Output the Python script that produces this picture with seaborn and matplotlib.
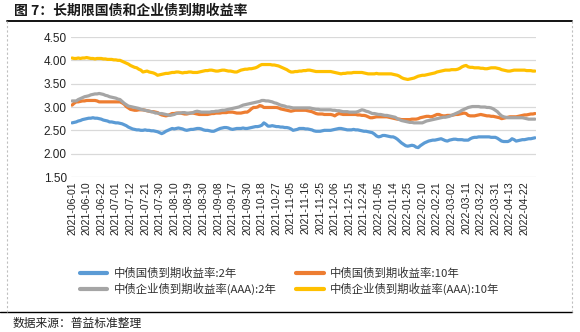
import numpy as np
import pandas as pd
import matplotlib
matplotlib.use("Agg")
import matplotlib.pyplot as plt
from matplotlib.lines import Line2D
import seaborn as sns

# ---------------- data ----------------
holidays = ["2021-06-14", "2021-09-20", "2021-09-21", "2021-10-01", "2021-10-04",
            "2021-10-05", "2021-10-06", "2021-10-07", "2022-01-03", "2022-01-31",
            "2022-02-01", "2022-02-02", "2022-02-03", "2022-02-04", "2022-04-04",
            "2022-04-05"]
dates = [d.strftime("%Y-%m-%d") for d in pd.bdate_range("2021-06-01", "2022-04-29")
         if d.strftime("%Y-%m-%d") not in holidays]

series_names = ["中债国债到期收益率:2年", "中债国债到期收益率:10年",
                "中债企业债到期收益率(AAA):2年", "中债企业债到期收益率(AAA):10年"]

gov_2y = [
    2.66, 2.67, 2.68, 2.70, 2.71, 2.73, 2.74, 2.75, 2.76, 2.76,
    2.77, 2.76, 2.76, 2.75, 2.74, 2.72, 2.71, 2.70, 2.68, 2.68,
    2.67, 2.66, 2.66, 2.65, 2.64, 2.62, 2.60, 2.57, 2.55, 2.53,
    2.52, 2.51, 2.51, 2.50, 2.50, 2.51, 2.50, 2.50, 2.49, 2.49,
    2.48, 2.47, 2.45, 2.43, 2.45, 2.48, 2.50, 2.52, 2.54, 2.53,
    2.54, 2.55, 2.54, 2.53, 2.51, 2.50, 2.51, 2.52, 2.52, 2.53,
    2.54, 2.54, 2.53, 2.51, 2.50, 2.50, 2.49, 2.48, 2.48, 2.50,
    2.52, 2.54, 2.55, 2.56, 2.56, 2.55, 2.53, 2.52, 2.53, 2.54,
    2.54, 2.54, 2.55, 2.54, 2.54, 2.55, 2.56, 2.57, 2.58, 2.58,
    2.59, 2.61, 2.66, 2.63, 2.59, 2.59, 2.60, 2.59, 2.58, 2.58,
    2.57, 2.57, 2.56, 2.56, 2.55, 2.53, 2.50, 2.51, 2.52, 2.54,
    2.54, 2.54, 2.53, 2.53, 2.52, 2.51, 2.49, 2.48, 2.48, 2.48,
    2.49, 2.50, 2.50, 2.50, 2.50, 2.51, 2.52, 2.53, 2.54, 2.54,
    2.53, 2.52, 2.51, 2.51, 2.51, 2.52, 2.51, 2.51, 2.50, 2.49,
    2.48, 2.48, 2.47, 2.46, 2.45, 2.42, 2.38, 2.36, 2.37, 2.39,
    2.39, 2.38, 2.37, 2.36, 2.36, 2.34, 2.31, 2.27, 2.23, 2.20,
    2.17, 2.16, 2.17, 2.18, 2.17, 2.14, 2.13, 2.17, 2.20, 2.23,
    2.25, 2.27, 2.28, 2.29, 2.29, 2.30, 2.31, 2.32, 2.30, 2.28,
    2.27, 2.29, 2.30, 2.31, 2.31, 2.30, 2.30, 2.30, 2.29, 2.29,
    2.29, 2.32, 2.34, 2.35, 2.35, 2.36, 2.36, 2.36, 2.36, 2.36,
    2.36, 2.35, 2.35, 2.35, 2.33, 2.30, 2.27, 2.26, 2.26, 2.26,
    2.28, 2.32, 2.30, 2.27, 2.28, 2.29, 2.30, 2.30, 2.31, 2.32,
    2.32, 2.33, 2.34]

gov_10y = [
    3.04, 3.08, 3.11, 3.11, 3.12, 3.13, 3.13, 3.14, 3.14, 3.14,
    3.14, 3.14, 3.13, 3.11, 3.11, 3.11, 3.11, 3.11, 3.11, 3.11,
    3.11, 3.11, 3.11, 3.11, 3.09, 3.06, 3.01, 2.98, 2.95, 2.94,
    2.93, 2.93, 2.94, 2.94, 2.94, 2.93, 2.92, 2.91, 2.90, 2.90,
    2.89, 2.88, 2.85, 2.83, 2.82, 2.81, 2.82, 2.84, 2.86, 2.86,
    2.87, 2.87, 2.87, 2.86, 2.85, 2.85, 2.86, 2.87, 2.87, 2.86,
    2.85, 2.84, 2.84, 2.84, 2.84, 2.84, 2.85, 2.86, 2.86, 2.87,
    2.87, 2.87, 2.88, 2.88, 2.88, 2.89, 2.89, 2.89, 2.88, 2.87,
    2.87, 2.87, 2.88, 2.89, 2.89, 2.92, 2.96, 2.99, 2.99, 3.00,
    3.03, 3.02, 2.99, 2.99, 2.99, 2.99, 2.99, 2.99, 2.99, 2.98,
    2.96, 2.95, 2.94, 2.93, 2.92, 2.91, 2.92, 2.93, 2.93, 2.93,
    2.93, 2.93, 2.93, 2.92, 2.91, 2.90, 2.88, 2.86, 2.85, 2.85,
    2.85, 2.84, 2.84, 2.84, 2.84, 2.83, 2.81, 2.84, 2.86, 2.85,
    2.84, 2.84, 2.84, 2.84, 2.84, 2.84, 2.84, 2.83, 2.83, 2.82,
    2.82, 2.81, 2.79, 2.77, 2.77, 2.78, 2.79, 2.79, 2.79, 2.79,
    2.79, 2.79, 2.78, 2.77, 2.76, 2.75, 2.74, 2.74, 2.73, 2.73,
    2.73, 2.73, 2.73, 2.74, 2.74, 2.74, 2.75, 2.77, 2.78, 2.79,
    2.80, 2.80, 2.79, 2.80, 2.82, 2.84, 2.84, 2.82, 2.81, 2.81,
    2.82, 2.82, 2.82, 2.83, 2.84, 2.84, 2.85, 2.86, 2.87, 2.86,
    2.82, 2.81, 2.81, 2.81, 2.82, 2.83, 2.84, 2.83, 2.82, 2.81,
    2.81, 2.80, 2.80, 2.79, 2.78, 2.77, 2.75, 2.76, 2.77, 2.78,
    2.79, 2.79, 2.79, 2.79, 2.80, 2.81, 2.82, 2.83, 2.83, 2.84,
    2.85, 2.85, 2.86]

corp_2y = [
    3.13, 3.13, 3.13, 3.16, 3.18, 3.20, 3.22, 3.23, 3.24, 3.26,
    3.27, 3.28, 3.28, 3.29, 3.28, 3.27, 3.25, 3.24, 3.22, 3.21,
    3.20, 3.19, 3.17, 3.16, 3.12, 3.08, 3.05, 3.02, 3.01, 3.00,
    2.99, 2.98, 2.97, 2.95, 2.94, 2.93, 2.92, 2.91, 2.90, 2.89,
    2.87, 2.87, 2.86, 2.86, 2.85, 2.84, 2.83, 2.82, 2.83, 2.84,
    2.86, 2.87, 2.87, 2.88, 2.88, 2.87, 2.87, 2.87, 2.88, 2.90,
    2.91, 2.90, 2.89, 2.89, 2.89, 2.89, 2.89, 2.90, 2.90, 2.91,
    2.91, 2.92, 2.93, 2.93, 2.94, 2.95, 2.96, 2.97, 2.98, 2.99,
    3.00, 3.02, 3.04, 3.05, 3.06, 3.07, 3.08, 3.09, 3.10, 3.11,
    3.12, 3.14, 3.14, 3.13, 3.13, 3.12, 3.11, 3.09, 3.08, 3.06,
    3.04, 3.03, 3.02, 3.00, 3.00, 2.99, 2.98, 2.98, 2.98, 2.98,
    2.98, 2.98, 2.98, 2.98, 2.98, 2.97, 2.96, 2.95, 2.95, 2.94,
    2.94, 2.94, 2.94, 2.94, 2.94, 2.93, 2.93, 2.92, 2.92, 2.91,
    2.90, 2.90, 2.90, 2.89, 2.89, 2.89, 2.89, 2.90, 2.92, 2.94,
    2.93, 2.91, 2.90, 2.88, 2.86, 2.86, 2.85, 2.84, 2.84, 2.83,
    2.82, 2.82, 2.81, 2.80, 2.79, 2.78, 2.75, 2.73, 2.71, 2.70,
    2.69, 2.68, 2.67, 2.67, 2.66, 2.66, 2.66, 2.66, 2.66, 2.68,
    2.70, 2.71, 2.72, 2.73, 2.74, 2.75, 2.76, 2.77, 2.78, 2.78,
    2.79, 2.80, 2.82, 2.84, 2.86, 2.88, 2.90, 2.93, 2.95, 2.97,
    2.99, 3.00, 3.01, 3.01, 3.01, 3.01, 3.00, 3.00, 3.00, 2.99,
    2.99, 2.98, 2.96, 2.93, 2.90, 2.85, 2.81, 2.79, 2.78, 2.77,
    2.77, 2.77, 2.77, 2.77, 2.77, 2.77, 2.77, 2.76, 2.75, 2.74,
    2.74, 2.74, 2.74]

corp_10y = [
    4.05, 4.04, 4.04, 4.05, 4.04, 4.05, 4.05, 4.06, 4.05, 4.04,
    4.04, 4.03, 4.04, 4.04, 4.04, 4.03, 4.03, 4.02, 4.02, 4.02,
    4.01, 4.01, 4.00, 4.00, 3.98, 3.96, 3.94, 3.92, 3.89, 3.87,
    3.85, 3.84, 3.81, 3.79, 3.75, 3.76, 3.77, 3.75, 3.74, 3.73,
    3.71, 3.68, 3.69, 3.70, 3.71, 3.72, 3.72, 3.73, 3.74, 3.74,
    3.75, 3.75, 3.74, 3.73, 3.74, 3.74, 3.75, 3.75, 3.74, 3.74,
    3.74, 3.75, 3.76, 3.77, 3.78, 3.78, 3.79, 3.79, 3.78, 3.77,
    3.77, 3.78, 3.79, 3.79, 3.78, 3.77, 3.77, 3.76, 3.75, 3.75,
    3.77, 3.79, 3.80, 3.81, 3.81, 3.82, 3.82, 3.83, 3.84, 3.86,
    3.89, 3.91, 3.91, 3.91, 3.91, 3.91, 3.90, 3.90, 3.89, 3.88,
    3.86, 3.84, 3.82, 3.80, 3.77, 3.75, 3.75, 3.76, 3.76, 3.77,
    3.77, 3.78, 3.78, 3.79, 3.79, 3.78, 3.77, 3.76, 3.76, 3.76,
    3.76, 3.76, 3.76, 3.76, 3.76, 3.75, 3.74, 3.73, 3.72, 3.71,
    3.72, 3.72, 3.73, 3.73, 3.73, 3.74, 3.74, 3.74, 3.74, 3.74,
    3.73, 3.72, 3.71, 3.71, 3.71, 3.71, 3.72, 3.71, 3.71, 3.71,
    3.71, 3.71, 3.71, 3.71, 3.70, 3.69, 3.68, 3.66, 3.63, 3.61,
    3.60, 3.59, 3.60, 3.61, 3.62, 3.64, 3.66, 3.67, 3.68, 3.68,
    3.69, 3.70, 3.71, 3.72, 3.73, 3.75, 3.76, 3.77, 3.78, 3.79,
    3.79, 3.79, 3.80, 3.80, 3.80, 3.81, 3.83, 3.86, 3.88, 3.89,
    3.86, 3.85, 3.85, 3.84, 3.84, 3.84, 3.83, 3.83, 3.82, 3.82,
    3.83, 3.84, 3.84, 3.84, 3.83, 3.82, 3.80, 3.79, 3.78, 3.77,
    3.77, 3.78, 3.79, 3.79, 3.79, 3.79, 3.79, 3.79, 3.78, 3.78,
    3.78, 3.77, 3.77]

colors = ["#5B9BD5", "#ED7D31", "#A5A5A5", "#FFC000"]
y_ticks = [1.5, 2.0, 2.5, 3.0, 3.5, 4.0, 4.5]

# ---------------- build frame ----------------
n = min(len(dates), len(gov_2y), len(gov_10y), len(corp_2y), len(corp_10y))
frames = []
for name, vals in zip(series_names, [gov_2y, gov_10y, corp_2y, corp_10y]):
    frames.append(pd.DataFrame({"idx": np.arange(n), "value": vals[:n], "series": name}))
df = pd.concat(frames, ignore_index=True)

# ---------------- figure ----------------
sns.set_theme(style="white")
cjk = ["Noto Sans CJK SC", "DejaVu Sans"]
plt.rcParams["font.family"] = cjk
plt.rcParams["axes.unicode_minus"] = False

W, H = 580, 332
fig = plt.figure(figsize=(W / 100, H / 100), dpi=100)
ax = fig.add_axes([71 / W, 1 - 177 / H, (536 - 71) / W, (177 - 37) / H])

sns.lineplot(data=df, x="idx", y="value", hue="series", hue_order=series_names,
             palette=colors, linewidth=2.3, ax=ax, legend=False)

ax.set_xlim(-0.5, n - 0.5)
ax.set_ylim(1.5, 4.5)
ax.set_yticks(y_ticks)
ax.set_yticklabels([f"{v:.2f}" for v in y_ticks], fontsize=8.5,
                   family=["Liberation Sans", "DejaVu Sans"], color="#222222")
tick_pos = list(range(0, n, 7))
ax.set_xticks(tick_pos)
ax.set_xticklabels([dates[i] for i in tick_pos], rotation=90, fontsize=7.6,
                   family=["Liberation Sans", "DejaVu Sans"], color="#222222")
ax.tick_params(axis="both", length=0, pad=3)
ax.yaxis.grid(True, color="#D9D9D9", linewidth=0.9)
ax.xaxis.grid(False)
for s in ax.spines.values():
    s.set_visible(False)
ax.set_xlabel("")
ax.set_ylabel("")

# legend
handles = [Line2D([0], [0], color=c, lw=3) for c in colors]
order = [0, 2, 1, 3]
fig.legend([handles[i] for i in order], [series_names[i] for i in order],
           ncol=2, loc="upper left", bbox_to_anchor=(73 / W, 1 - 261 / H),
           frameon=False, fontsize=8.2, handlelength=2.4, handletextpad=0.55,
           columnspacing=1.75, labelspacing=0.3, labelcolor="#333333",
           borderaxespad=0.2)

# title and frame lines
fig.text(14 / W, 1 - 11 / H, "图 7：长期限国债和企业债到期收益率", fontsize=10,
         fontweight="bold", color="#1a1a1a", va="center", ha="left")
fig.add_artist(Line2D([7 / W, 572 / W], [1 - 20.5 / H, 1 - 20.5 / H],
                      transform=fig.transFigure, color="black", lw=1.3))
fig.add_artist(Line2D([0, 572 / W], [1 - 312 / H, 1 - 312 / H],
                      transform=fig.transFigure, color="black", lw=1.0))
fig.add_artist(Line2D([7 / W, 7 / W], [1 - 21 / H, 1 - 312 / H],
                      transform=fig.transFigure, color="#BFBFBF", lw=0.8, ls=(0, (2, 2))))
fig.add_artist(Line2D([572 / W, 572 / W], [1 - 21 / H, 1 - 312 / H],
                      transform=fig.transFigure, color="#BFBFBF", lw=0.8, ls=(0, (2, 2))))
fig.text(13 / W, 1 - 323 / H, "数据来源：普益标准整理", fontsize=8.5,
         color="#222222", va="center", ha="left")

fig.savefig("out.png", dpi=100)
